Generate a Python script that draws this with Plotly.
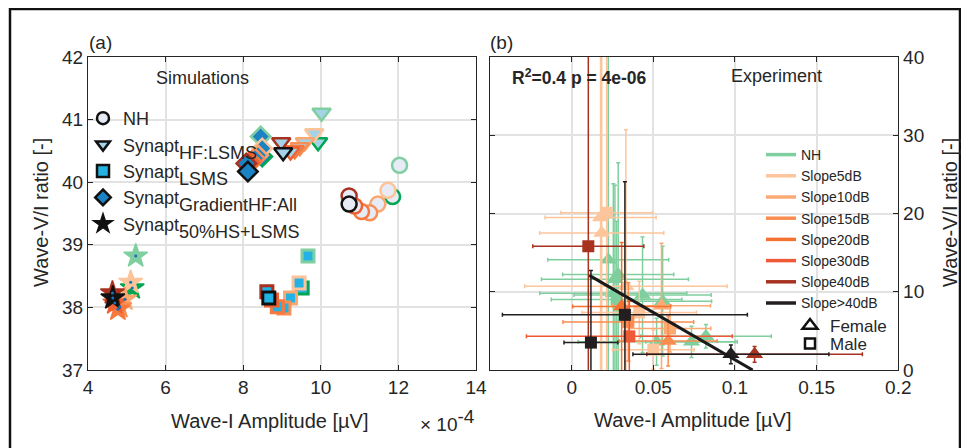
import plotly.graph_objects as go

# The page body has an 8px default margin; the figure is sized and laid out to compensate.
OFF = 8
W, H = 969 - OFF, 448 - OFF
FONT = "Liberation Sans, Arial, Helvetica, sans-serif"
TXT = "#262626"

def fx(px):
    return (px - OFF) / W

def fy(py):
    return 1 - (py - OFF) / H

# ---------------- Panel (a): simulations (amplitude in units of 1e-4 uV) ----------------
sim_colors = ["#80cfa0", "#00a651", "#fdc49a", "#fba870", "#f98f55",
              "#f6793f", "#f1602f", "#a8321f", "#111111"]

nh_amp = [12.03, 11.85, 11.73, 11.47, 11.26, 11.05, 10.87, 10.73, 10.73]
nh_ratio = [40.27, 39.77, 39.87, 39.65, 39.51, 39.53, 39.62, 39.78, 39.65]

hf_amp = [10.02, 9.93, 9.83, 9.59, 9.46, 9.33, 9.22, 8.98, 9.03]
hf_ratio = [41.11, 40.64, 40.78, 40.64, 40.56, 40.51, 40.49, 40.64, 40.48]

lsms_amp = [9.67, 9.52, 9.44, 9.22, 9.05, 8.88, 8.73, 8.61, 8.66]
lsms_ratio = [38.82, 38.31, 38.39, 38.15, 37.99, 38.01, 38.12, 38.25, 38.15]

grad_amp = [8.45, 8.49, 8.49, 8.38, 8.30, 8.21, 8.15, 8.08, 8.12]
grad_ratio = [40.73, 40.41, 40.54, 40.43, 40.38, 40.33, 40.31, 40.30, 40.17]

hs_amp = [5.23, 5.14, 5.10, 4.95, 4.82, 4.77, 4.69, 4.63, 4.64]
hs_ratio = [38.82, 38.31, 38.40, 38.13, 38.01, 37.97, 38.07, 38.23, 38.15]

sim_labels = ["NH", "HF:LSMS", "LSMS", "GradientHF:All", "50%HS+LSMS"]
sim_symbols = ["circle", "triangle-down", "square", "diamond", "star"]
sim_fills = ["#e6ebf5", "#a3d3e8", "#22b2e4", "#1b82c4", "#111111"]

# ---------------- Panel (b): experiment ----------------
exp_groups = ["NH", "Slope5dB", "Slope10dB", "Slope15dB", "Slope20dB",
              "Slope30dB", "Slope40dB", "Slope>40dB"]
exp_colors = ["#7fcf9e", "#fdc59b", "#fcaa74", "#f98d50", "#f5712f",
              "#ef5a36", "#a83220", "#231f20"]

exp_group = ["NH", "NH", "NH", "NH", "NH", "NH", "NH", "NH", "NH", "NH",
             "Slope5dB", "Slope5dB", "Slope5dB", "Slope5dB", "Slope5dB", "Slope5dB",
             "Slope10dB", "Slope10dB",
             "Slope15dB", "Slope15dB",
             "Slope20dB",
             "Slope30dB",
             "Slope40dB", "Slope40dB",
             "Slope>40dB", "Slope>40dB", "Slope>40dB"]
exp_sex = ["F", "F", "F", "F", "F", "F", "F", "F", "F", "M",
           "F", "F", "F", "M", "M", "M",
           "F", "M",
           "F", "M",
           "F",
           "M",
           "M", "F",
           "M", "M", "F"]
exp_amp = [0.0224, 0.0285, 0.0265, 0.0434, 0.0557, 0.0520, 0.0734, 0.0822, 0.0255, 0.0275,
           0.0177, 0.0184, 0.0332, 0.0214, 0.0500, 0.0414,
           0.0550, 0.0602,
           0.0591, 0.0347,
           0.0306,
           0.0353,
           0.0102, 0.1120,
           0.0326, 0.0118, 0.0975]
exp_ratio = [14.1, 12.2, 11.6, 9.6, 8.8, 3.6, 3.6, 4.3, 9.8, 9.0,
             19.5, 17.5, 10.7, 20.1, 2.6, 7.35,
             8.2, 5.3,
             3.7, 6.15,
             8.1,
             4.3,
             15.8, 2.0,
             7.05, 3.5, 2.0]
exp_amp_err = [0.037, 0.034, 0.045, 0.042, 0.030, 0.048, 0.028, 0.040, 0.045, 0.040,
               0.034, 0.038, 0.062, 0.028, 0.025, 0.035,
               0.030, 0.025,
               0.030, 0.040,
               0.030,
               0.063,
               0.034, 0.066,
               0.075, 0.0165, 0.060]
exp_ratio_err = [27.0, 14.3, 12.0, 7.4, 7.0, 3.0, 2.0, 1.5, 14.0, 10.0,
                 25.0, 24.0, 20.0, 22.0, 2.5, 4.0,
                 8.0, 3.0,
                 3.2, 5.0,
                 8.2,
                 4.5,
                 28.0, 1.0,
                 17.0, 9.2, 1.2]

fit_intercept = 13.4
fit_slope = -121.0
fit_amp = [0.0108, 0.1108]

sex_labels = ["Female", "Male"]

fig = go.Figure()

# ---- Panel (a) data ----
sim_sets = [(nh_amp, nh_ratio), (hf_amp, hf_ratio), (lsms_amp, lsms_ratio),
            (grad_amp, grad_ratio), (hs_amp, hs_ratio)]
sim_sizes = [15, 16, 12, 15, 18]
sim_lw = [2.5, 2.5, 3, 2.5, 1.5]
for k, (xa, ya) in enumerate(sim_sets):
    is_star = sim_symbols[k] == "star"
    fig.add_trace(go.Scatter(
        x=xa, y=ya, mode="markers", xaxis="x", yaxis="y", showlegend=False,
        marker=dict(symbol=sim_symbols[k], size=sim_sizes[k],
                    color=sim_colors if is_star else sim_fills[k],
                    line=dict(color=sim_colors, width=sim_lw[k]))))
    if is_star:
        fig.add_trace(go.Scatter(
            x=xa, y=ya, mode="markers", xaxis="x", yaxis="y", showlegend=False,
            marker=dict(size=3, color="#1b6fb8")))

# legend entries panel (a)
for k, lab in enumerate(sim_labels):
    name = lab if k == 0 else ("Synapt<span style='baseline-shift:-7px'>" + lab + "</span>")
    fig.add_trace(go.Scatter(
        x=[None], y=[None], mode="markers", name=name, legend="legend",
        xaxis="x", yaxis="y",
        marker=dict(symbol=sim_symbols[k], size=12, color=sim_fills[k],
                    line=dict(color="#111111", width=2.5))))

# ---- Panel (b) data ----
for g, col in zip(exp_groups, exp_colors):
    for sx, sym, sz in (("F", "triangle-up", 15), ("M", "square", 12)):
        idx = [i for i in range(len(exp_group)) if exp_group[i] == g and exp_sex[i] == sx]
        if not idx:
            continue
        fig.add_trace(go.Scatter(
            x=[exp_amp[i] for i in idx], y=[exp_ratio[i] for i in idx],
            mode="markers", xaxis="x2", yaxis="y2", showlegend=False,
            marker=dict(symbol=sym, size=sz, color=col, line=dict(width=0)),
            error_x=dict(type="data", array=[exp_amp_err[i] for i in idx],
                         color=col, thickness=1.5, width=2),
            error_y=dict(type="data", array=[exp_ratio_err[i] for i in idx],
                         color=col, thickness=1.5, width=2)))

fig.add_trace(go.Scatter(
    x=fit_amp, y=[fit_intercept + fit_slope * a for a in fit_amp],
    mode="lines", xaxis="x2", yaxis="y2", showlegend=False,
    line=dict(color="#1a1a1a", width=3)))

for g, col in zip(exp_groups, exp_colors):
    fig.add_trace(go.Scatter(
        x=[None], y=[None], mode="lines", name=g, legend="legend2",
        xaxis="x2", yaxis="y2", line=dict(color=col, width=3.5)))

fig.add_trace(go.Scatter(
    x=[None], y=[None], mode="markers", name=sex_labels[0], legend="legend3",
    xaxis="x2", yaxis="y2",
    marker=dict(symbol="triangle-up-open", size=13, color="#111111", line=dict(width=2.5))))
fig.add_trace(go.Scatter(
    x=[None], y=[None], mode="markers", name=sex_labels[1], legend="legend4",
    xaxis="x2", yaxis="y2",
    marker=dict(symbol="square-open", size=10, color="#111111", line=dict(width=2.5))))

axis_common = dict(showline=True, linecolor=TXT, linewidth=1, mirror="ticks",
                   ticks="inside", ticklen=5, tickcolor=TXT, showgrid=True,
                   gridcolor="#e2e2e2", gridwidth=1.5, zeroline=False, automargin=False,
                   tickfont=dict(family=FONT, size=19, color=TXT))

y_top, y_bot = 57, 370
fig.update_layout(
    width=W, height=H, margin=dict(l=0, r=0, t=0, b=0, autoexpand=False),
    paper_bgcolor="white", plot_bgcolor="white",
    font=dict(family=FONT, color=TXT),
    xaxis=dict(domain=[fx(88), fx(476)], range=[4, 14], tickvals=[4, 6, 8, 10, 12, 14],
               anchor="y", **axis_common),
    yaxis=dict(domain=[fy(y_bot), fy(y_top)], range=[37, 42], tickvals=[37, 38, 39, 40, 41, 42],
               anchor="x", **axis_common),
    xaxis2=dict(domain=[fx(490), fx(898.3)], range=[-0.05, 0.2],
                tickvals=[0, 0.05, 0.1, 0.15, 0.2], ticktext=["0", "0.05", "0.1", "0.15", "0.2"],
                anchor="y2", **axis_common),
    yaxis2=dict(domain=[fy(y_bot), fy(y_top)], range=[0, 40], tickvals=[0, 10, 20, 30, 40],
                anchor="x2", side="right", **axis_common),
    legend=dict(x=fx(83), y=fy(100), xanchor="left", yanchor="top", bgcolor="rgba(0,0,0,0)",
                font=dict(family=FONT, size=18, color=TXT), tracegroupgap=0),
    legend2=dict(x=fx(761), y=fy(139), xanchor="left", yanchor="top", bgcolor="rgba(0,0,0,0)",
                 font=dict(family=FONT, size=14, color=TXT)),
    legend3=dict(x=fx(790), y=fy(308), xanchor="left", yanchor="top", bgcolor="rgba(0,0,0,0)",
                 font=dict(family=FONT, size=17, color=TXT)),
    legend4=dict(x=fx(790), y=fy(326), xanchor="left", yanchor="top", bgcolor="rgba(0,0,0,0)",
                 font=dict(family=FONT, size=17, color=TXT)),
)

ann = []
def add_text(text, px, py, size, xanchor="center", angle=0, bold=False):
    ann.append(dict(text=("<b>" + text + "</b>") if bold else text, x=fx(px), y=fy(py),
                    xref="paper", yref="paper", showarrow=False, xanchor=xanchor,
                    yanchor="middle", textangle=angle,
                    font=dict(family=FONT, size=size, color=TXT)))

add_text("(a)", 87, 42, 19, xanchor="left")
add_text("(b)", 488, 42, 19, xanchor="left")
add_text("Simulations", 202, 78, 18)
add_text("Experiment", 776, 76, 18)
add_text("R<sup>2</sup>=0.4 p = 4e-06", 579, 77, 17.5, bold=True)
add_text("Wave-I Amplitude [\u00b5V]", 270, 421, 20)
add_text("Wave-I Amplitude [\u00b5V]", 693, 420, 20)
add_text("\u00d7 10<sup><span style='font-size:19px'>-4</span></sup>", 447, 420, 19)
add_text("Wave-V/I ratio [-]", 41, 213, 20, angle=-90)
add_text("Wave-V/I ratio [-]", 950, 213, 20, angle=-90)
fig.update_layout(annotations=ann)

fig.add_shape(type="rect", xref="paper", yref="paper", x0=fx(10), x1=fx(960),
              y0=-0.1, y1=fy(9), line=dict(color="#111111", width=2.5))

fig.write_html("out.html")
